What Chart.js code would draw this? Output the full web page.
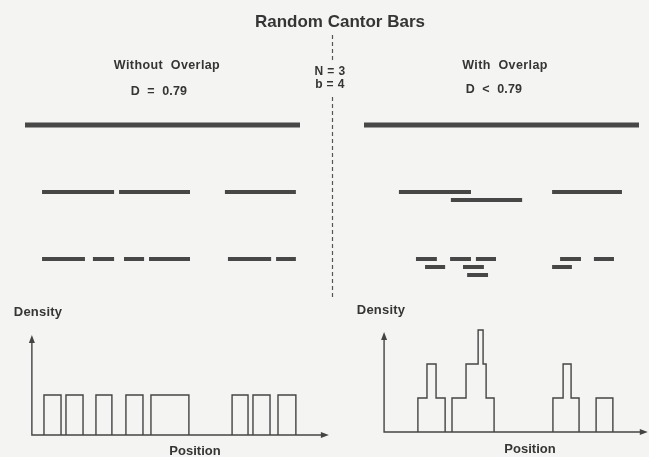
<!DOCTYPE html>
<html>
<head>
<meta charset="utf-8">
<script src="https://cdn.jsdelivr.net/npm/chart.js@4/dist/chart.umd.min.js"></script>
<style>
  html, body { margin: 0; padding: 0; background: #f4f4f2; }
  #cantor { display: block; }
</style>
</head>
<body>
<canvas id="cantor" width="649" height="457"></canvas>
<script>
// positions are in units of the initiator bar (0 = left end, 100 = right end)
var leftLevel0 = [[0, 100]];
var leftLevel1 = [[6.2, 32.4], [34.2, 60], [72.7, 98.5]];
var leftLevel2 = [[6.2, 21.8], [24.7, 32.4], [36, 43.3], [45.1, 60], [73.8, 89.5], [91.3, 98.5]];

// [from, to, lane] - lane is the row used when bars overlap
var rightLevel0 = [[0, 100, 0]];
var rightLevel1 = [[12.7, 38.9, 0], [31.6, 57.5, 1], [68.4, 93.8, 0]];
var rightLevel2 = [[18.9, 26.5, 0], [22.2, 29.5, 1], [31.3, 38.9, 0], [40.7, 48, 0], [36, 43.6, 1],
                   [37.5, 45.1, 2], [71.3, 78.9, 0], [83.6, 90.9, 0], [68.4, 75.6, 1]];

// density steps: [from, to, density]
var leftDensity = [[6.9, 13.1, 1], [14.9, 21.1, 1], [25.8, 31.6, 1], [36.7, 42.9, 1], [45.8, 59.6, 1],
                   [75.3, 81.1, 1], [82.9, 89.1, 1], [92, 98.5, 1]];
var rightDensity = [[19.6, 22.9, 1], [22.9, 26.2, 2], [26.2, 29.5, 1],
                    [32, 37.1, 1], [37.1, 41.5, 2], [41.5, 43.3, 3], [43.3, 44.4, 2], [44.4, 47.3, 1],
                    [68.7, 72.4, 1], [72.4, 75.3, 2], [75.3, 78.2, 1],
                    [84.4, 90.5, 1]];

var W = 649, H = 457;
var LANE = 0.12;
var barColor = '#474747';
var inkColor = '#353535';

// min/max for a scale so that value v0 lands on pixel p0 and v1 on p1
function fitX(v0, p0, v1, p1, size) {
  var k = (p1 - p0) / (v1 - v0);
  var min = v0 - p0 / k;
  return { min: min, max: min + size / k };
}
function fitUp(v0, p0, v1, p1, size) {
  var k = (p0 - p1) / (v1 - v0);
  var min = v0 - (size - p0) / k;
  return { min: min, max: min + size / k };
}

function segments(list, level) {
  var pts = [];
  list.forEach(function(s) {
    var y = level + (s[2] || 0) * LANE;
    pts.push({ x: s[0], y: y }, { x: s[1], y: y }, { x: s[1], y: null });
  });
  return pts;
}

function steps(list) {
  var pts = [];
  for (var i = 0; i < list.length; i++) {
    var s = list[i];
    var prev = list[i - 1], next = list[i + 1];
    if (!prev || prev[1] !== s[0]) pts.push({ x: s[0], y: 0 });
    pts.push({ x: s[0], y: s[2] }, { x: s[1], y: s[2] });
    if (!next || next[0] !== s[1]) pts.push({ x: s[1], y: 0 }, { x: s[1], y: null });
  }
  return pts;
}

function barSet(data, xAxis, width) {
  return { data: data, xAxisID: xAxis, yAxisID: 'yBars', borderColor: barColor,
           borderWidth: width, borderCapStyle: 'butt', pointRadius: 0, spanGaps: false };
}
function densitySet(data, xAxis, yAxis) {
  return { data: data, xAxisID: xAxis, yAxisID: yAxis, borderColor: '#444',
           borderWidth: 1.4, pointRadius: 0, spanGaps: false, tension: 0 };
}

var xL = fitX(0, 25, 100, 300, W);
var xR = fitX(0, 364, 100, 639, W);
var yBars = fitX(0, 125, 1, 192, H);
var yDL = fitUp(0, 435, 1, 395, H);
var yDR = fitUp(0, 432, 1, 398, H);

// axes frames of the two density plots, in data units
var frames = [
  { x: 'xL', y: 'yDL', x0: 2.5, x1: 110.5, top: 2.5 },
  { x: 'xR', y: 'yDR', x0: 7.3, x1: 103.2, top: 2.94 }
];

var labels = [
  { text: 'Random Cantor Bars', x: 340, y: 22, font: 'bold 17px "Liberation Sans"', sp: 0 },
  { text: 'Without  Overlap', x: 167, y: 66, font: 'bold 12.5px "Liberation Sans"', sp: 0.4 },
  { text: 'D  =  0.79', x: 159, y: 92, font: 'bold 12.5px "Liberation Sans"', sp: 0.2 },
  { text: 'N = 3', x: 330, y: 72, font: 'bold 12px "Liberation Sans"', sp: 0.4 },
  { text: 'b = 4', x: 330, y: 85, font: 'bold 12px "Liberation Sans"', sp: 0.4 },
  { text: 'With  Overlap', x: 505, y: 66, font: 'bold 12.5px "Liberation Sans"', sp: 0.4 },
  { text: 'D  <  0.79', x: 494, y: 90, font: 'bold 12.5px "Liberation Sans"', sp: 0.2 },
  { text: 'Density', x: 38, y: 312, font: 'bold 13px "Liberation Sans"', sp: 0.2 },
  { text: 'Position', x: 195, y: 451, font: 'bold 13px "Liberation Sans"', sp: 0 },
  { text: 'Density', x: 381, y: 310, font: 'bold 13px "Liberation Sans"', sp: 0.2 },
  { text: 'Position', x: 530, y: 449, font: 'bold 13px "Liberation Sans"', sp: 0 }
];

var decor = {
  id: 'decor',
  afterDatasetsDraw: function(chart) {
    var ctx = chart.ctx;
    ctx.save();
    // dashed divider
    ctx.strokeStyle = '#555';
    ctx.lineWidth = 1.2;
    ctx.setLineDash([4, 3]);
    ctx.beginPath();
    ctx.moveTo(332.5, 35); ctx.lineTo(332.5, 63);
    ctx.moveTo(332.5, 97); ctx.lineTo(332.5, 298);
    ctx.stroke();
    ctx.setLineDash([]);

    // density axes with arrows
    frames.forEach(function(f) {
      var sx = chart.scales[f.x], sy = chart.scales[f.y];
      var ox = sx.getPixelForValue(f.x0), oy = sy.getPixelForValue(0);
      var ex = sx.getPixelForValue(f.x1), ty = sy.getPixelForValue(f.top);
      ctx.strokeStyle = '#444';
      ctx.lineWidth = 1.4;
      ctx.beginPath();
      ctx.moveTo(ox, ty + 4); ctx.lineTo(ox, oy); ctx.lineTo(ex - 4, oy);
      ctx.stroke();
      ctx.fillStyle = '#444';
      ctx.beginPath();
      ctx.moveTo(ox, ty); ctx.lineTo(ox - 3, ty + 8); ctx.lineTo(ox + 3, ty + 8); ctx.closePath();
      ctx.moveTo(ex, oy); ctx.lineTo(ex - 8, oy - 3); ctx.lineTo(ex - 8, oy + 3); ctx.closePath();
      ctx.fill();
    });

    ctx.fillStyle = inkColor;
    ctx.textAlign = 'center';
    ctx.textBaseline = 'middle';
    labels.forEach(function(l) {
      ctx.font = l.font;
      ctx.letterSpacing = l.sp + 'px';
      ctx.fillText(l.text, l.x, l.y);
    });
    ctx.restore();
  }
};

var ctx = document.getElementById('cantor').getContext('2d');
var chart = new Chart(ctx, {
  type: 'line',
  data: {
    datasets: [
      barSet(segments(leftLevel0, 0), 'xL', 5),
      barSet(segments(leftLevel1, 1), 'xL', 4),
      barSet(segments(leftLevel2, 2), 'xL', 4),
      barSet(segments(rightLevel0, 0), 'xR', 5),
      barSet(segments(rightLevel1, 1), 'xR', 4),
      barSet(segments(rightLevel2, 2), 'xR', 4),
      densitySet(steps(leftDensity), 'xL', 'yDL'),
      densitySet(steps(rightDensity), 'xR', 'yDR')
    ]
  },
  options: {
    responsive: false,
    animation: false,
    layout: { padding: 0 },
    plugins: { legend: { display: false }, tooltip: { enabled: false }, title: { display: false } },
    scales: {
      xL: { type: 'linear', axis: 'x', display: false, min: xL.min, max: xL.max },
      xR: { type: 'linear', axis: 'x', display: false, min: xR.min, max: xR.max },
      yBars: { type: 'linear', axis: 'y', display: false, reverse: true, min: yBars.min, max: yBars.max },
      yDL: { type: 'linear', axis: 'y', display: false, min: yDL.min, max: yDL.max },
      yDR: { type: 'linear', axis: 'y', display: false, min: yDR.min, max: yDR.max }
    }
  },
  plugins: [decor]
});
</script>
</body>
</html>
